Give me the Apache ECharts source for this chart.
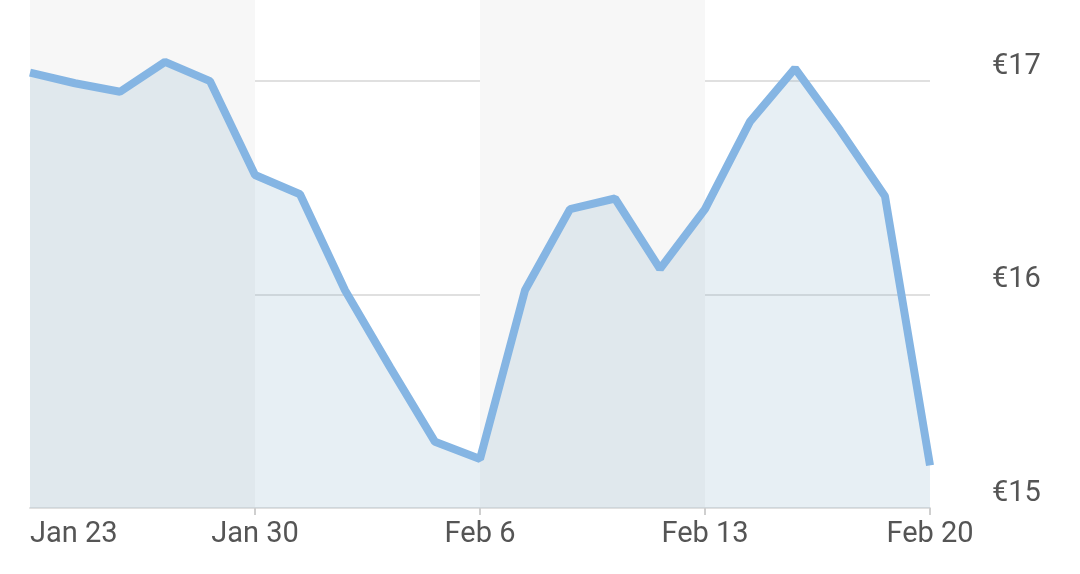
<!DOCTYPE html>
<html>
<head>
    <meta charset="utf-8">
    <title>Price chart</title>
    <script src="https://cdn.jsdelivr.net/npm/echarts@6/dist/echarts.min.js"></script>
    <style>
        html, body { margin: 0; padding: 0; background: #fff; }
    </style>
</head>
<body>
    <div id="main" style="width: 1080px;height:574px;"></div>
    <script type="text/javascript">
        // trading days (weekdays only)
        var dates = ['Jan 23', 'Jan 24', 'Jan 25', 'Jan 26', 'Jan 27',
                     'Jan 30', 'Jan 31', 'Feb 1', 'Feb 2', 'Feb 3',
                     'Feb 6', 'Feb 7', 'Feb 8', 'Feb 9', 'Feb 10',
                     'Feb 13', 'Feb 14', 'Feb 15', 'Feb 16', 'Feb 17',
                     'Feb 20'];
        var prices = [17.04, 16.99, 16.95, 17.09, 17.00,
                      16.56, 16.47, 16.02, 15.66, 15.31,
                      15.23, 16.02, 16.40, 16.45, 16.12,
                      16.40, 16.81, 17.06, 16.77, 16.46,
                      15.20];
        var yTicks = [15, 16, 17];

        var myChart = echarts.init(document.getElementById('main'));

        // one label / tick / band per week
        function weekStart(idx) { return idx % 5 === 0; }

        var option = {
            animation: false,
            grid: { left: 30, right: 150, top: 0, bottom: 66 },
            xAxis: {
                type: 'category',
                data: dates,
                boundaryGap: false,
                axisLine: { lineStyle: { color: '#e0e0e0', width: 2 } },
                axisTick: {
                    interval: function (idx) { return idx > 0 && idx % 5 === 0; },
                    length: 7,
                    lineStyle: { color: '#cfcfcf', width: 2 }
                },
                axisLabel: {
                    interval: weekStart,
                    alignMinLabel: 'left',
                    margin: 12,
                    color: '#555',
                    fontSize: 29,
                    fontFamily: 'Roboto'
                },
                splitLine: { show: false },
                splitArea: {
                    show: true,
                    interval: weekStart,
                    areaStyle: { color: ['#f7f7f7', 'rgba(255,255,255,0)'] }
                }
            },
            yAxis: {
                type: 'value',
                position: 'right',
                min: 15,
                max: 17.38,
                interval: 1,
                axisLine: { show: false },
                axisTick: { show: false },
                axisLabel: {
                    margin: 62,
                    color: '#555',
                    fontSize: 29,
                    fontFamily: 'Roboto',
                    verticalAlign: 'bottom',
                    padding: [0, 0, 0, 0],
                    formatter: function (v) {
                        return yTicks.indexOf(v) >= 0 ? '€' + v : '';
                    }
                },
                splitLine: {
                    lineStyle: { color: ['#e0e0e0', '#e0e0e0', '#e0e0e0', 'rgba(0,0,0,0)'], width: 2 }
                }
            },
            series: [{
                name: 'price',
                type: 'line',
                data: prices,
                symbol: 'none',
                lineStyle: { color: '#85b5e3', width: 8 },
                areaStyle: { color: 'rgba(140,178,205,0.3)' }
            }]
        };
        myChart.setOption(option);
    </script>
</body>
</html>
